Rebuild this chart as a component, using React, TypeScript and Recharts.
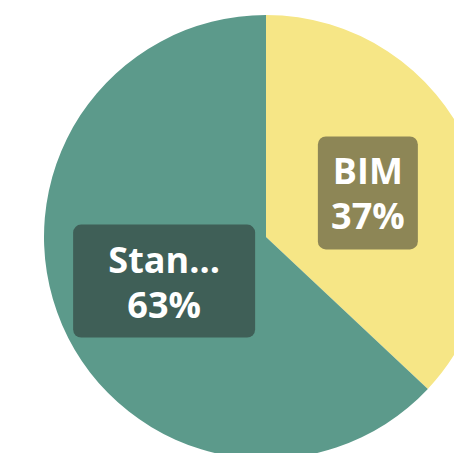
import { PieChart, Pie, Cell } from 'recharts'

const names = ['BIM', 'Standard']
const values = [37, 63]
const colors = ['#f6e686', '#5c9a8b']
const labelColors = ['#8d8656', '#3f5f57']

const data = names.map((name, i) => ({ name, value: values[i] }))

const RAD = Math.PI / 180

function renderLabel(props: any) {
  const { cx, cy, midAngle, outerRadius, index, percent, name } = props
  const r = outerRadius * 0.5
  const x = cx + r * Math.cos(-midAngle * RAD)
  const y = cy + r * Math.sin(-midAngle * RAD)
  const short = name.length > 4 ? name.slice(0, 4) + '...' : name
  const pct = Math.round(percent * 100) + '%'
  const w = index === 0 ? 100 : 182
  const h = 113
  return (
    <g>
      <rect x={x - w / 2} y={y - h / 2} width={w} height={h} rx={8} fill={labelColors[index]} />
      <text
        x={x}
        y={y - 22}
        fill="#ffffff"
        textAnchor="middle"
        dominantBaseline="central"
        fontFamily="'Open Sans', sans-serif"
        fontWeight="bold"
        fontSize={36}
      >
        {short}
      </text>
      <text
        x={x}
        y={y + 23}
        fill="#ffffff"
        textAnchor="middle"
        dominantBaseline="central"
        fontFamily="'Open Sans', sans-serif"
        fontWeight="bold"
        fontSize={36}
      >
        {pct}
      </text>
    </g>
  )
}

export default function App() {
  return (
    <div style={{ position: 'absolute', left: 0, top: 0, width: 454, height: 453, overflow: 'hidden', background: '#fff' }}>
      <PieChart width={454} height={453} margin={{ top: 0, right: 0, bottom: 0, left: 0 }}>
        <Pie
          data={data}
          dataKey="value"
          nameKey="name"
          cx={266}
          cy={237}
          outerRadius={222}
          startAngle={90}
          endAngle={-270}
          stroke="none"
          label={renderLabel}
          labelLine={false}
          isAnimationActive={false}
        >
          {data.map((d, i) => (
            <Cell key={d.name} fill={colors[i]} />
          ))}
        </Pie>
      </PieChart>
    </div>
  )
}
